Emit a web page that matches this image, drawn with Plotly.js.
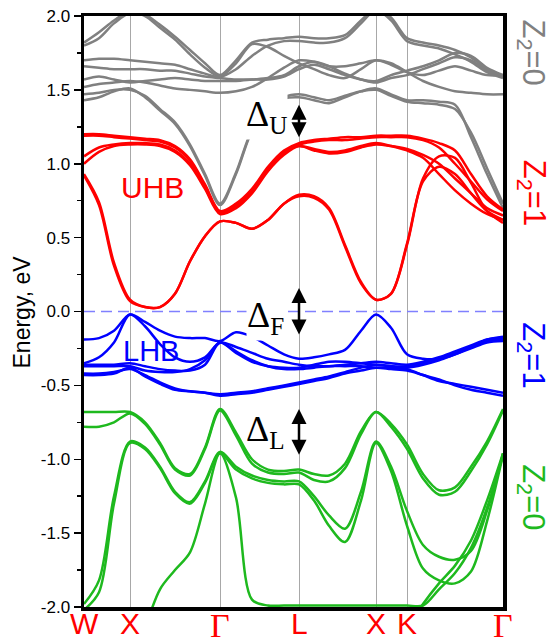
<!DOCTYPE html>
<html><head><meta charset="utf-8">
<script src="https://cdn.plot.ly/plotly-3.0.1.min.js"></script>
<style>html,body{margin:0;padding:0;background:#fff;overflow:hidden}</style>
</head><body><div id="chart" style="width:557px;height:643px"></div>
<script>
// k-path coordinate (arbitrary path units)
const kPath = [0,15,30,46,61,76,91,106,121,136,152,168,184,200,215,230,245,261,277,292,307,323,339,355,371,387,403,419];
const symK = [0,46,136,215,292,323,419];
const symLabels = ['W','X','Γ','L','X','K','Γ'];
const yTickVals = [-2,-1.5,-1,-0.5,0,0.5,1,1.5,2];
const yTickText = ['-2.0','-1.5','-1.0','-0.5','0.0','0.5','1.0','1.5','2.0'];

// Z2=0 upper bands (gray), eV
const grayBands = [
  [1.82,1.89,1.97,2.03,2.01,1.94,1.86,1.77,1.68,1.60,1.70,1.82,1.84,1.85,1.86,1.85,1.85,1.87,1.97,2.05,1.99,1.85,1.82,1.80,1.77,1.72,1.64,1.59],
  [1.80,1.85,1.95,2.02,2.00,1.92,1.84,1.74,1.65,1.59,1.64,1.73,1.80,1.83,1.83,1.82,1.82,1.85,1.95,2.04,1.97,1.83,1.80,1.78,1.74,1.69,1.62,1.58],
  [1.70,1.71,1.71,1.70,1.69,1.68,1.67,1.64,1.61,1.59,1.68,1.81,1.79,1.73,1.68,1.64,1.60,1.58,1.64,1.70,1.67,1.62,1.60,1.63,1.66,1.63,1.60,1.60],
  [1.66,1.65,1.64,1.64,1.64,1.63,1.63,1.61,1.59,1.58,1.57,1.57,1.57,1.59,1.64,1.67,1.64,1.60,1.57,1.55,1.58,1.60,1.64,1.68,1.72,1.70,1.63,1.59],
  [1.57,1.59,1.57,1.55,1.56,1.57,1.58,1.57,1.56,1.56,1.56,1.57,1.58,1.60,1.66,1.69,1.66,1.61,1.57,1.56,1.60,1.63,1.66,1.70,1.75,1.73,1.65,1.60],
  [1.52,1.54,1.55,1.56,1.55,1.53,1.51,1.50,1.49,1.48,1.49,1.52,1.58,1.65,1.70,1.69,1.66,1.66,1.68,1.70,1.68,1.62,1.56,1.52,1.49,1.48,1.47,1.47],
  [1.43,1.45,1.49,1.51,1.45,1.36,1.27,1.12,0.92,0.72,0.93,1.22,1.36,1.44,1.45,1.43,1.41,1.45,1.49,1.51,1.47,1.43,1.43,1.42,1.40,1.18,0.93,0.70],
  [1.47,1.48,1.50,1.50,1.46,1.37,1.28,1.13,0.93,0.73,0.94,1.23,1.37,1.45,1.47,1.45,1.43,1.46,1.49,1.50,1.46,1.42,1.41,1.40,1.37,1.21,0.97,0.73]
];
// Z2=1 upper Hubbard bands (red)
const redBands = [
  [1.20,1.20,1.19,1.18,1.17,1.16,1.12,1.03,0.86,0.68,0.73,0.83,0.98,1.09,1.14,1.16,1.17,1.18,1.18,1.19,1.19,1.19,1.17,1.14,1.09,0.93,0.78,0.69],
  [1.19,1.19,1.18,1.17,1.16,1.15,1.11,1.02,0.85,0.67,0.72,0.82,0.97,1.08,1.12,1.10,1.08,1.09,1.12,1.14,1.12,1.09,1.04,0.93,0.82,0.73,0.66,0.62],
  [1.05,1.11,1.13,1.14,1.14,1.13,1.09,1.00,0.84,0.67,0.71,0.81,0.96,1.07,1.13,1.15,1.16,1.16,1.17,1.18,1.18,1.18,1.16,1.11,1.00,0.88,0.76,0.68],
  [1.00,1.08,1.12,1.13,1.13,1.12,1.08,0.99,0.83,0.66,0.70,0.80,0.95,1.06,1.12,1.09,1.07,1.08,1.11,1.13,1.12,1.10,1.06,1.00,0.90,0.80,0.70,0.65],
  [0.93,0.74,0.33,0.08,0.03,0.03,0.12,0.34,0.51,0.61,0.60,0.56,0.62,0.73,0.79,0.78,0.70,0.45,0.20,0.08,0.12,0.45,0.90,1.05,1.04,0.87,0.68,0.60],
  [0.92,0.72,0.31,0.07,0.03,0.03,0.12,0.34,0.51,0.61,0.60,0.56,0.62,0.73,0.78,0.77,0.69,0.44,0.19,0.08,0.12,0.46,0.88,0.98,0.93,0.80,0.68,0.62]
];
// Z2=1 lower Hubbard bands (blue)
const blueBands = [
  [-0.19,-0.18,-0.13,-0.02,-0.07,-0.13,-0.17,-0.18,-0.18,-0.20,-0.14,-0.17,-0.23,-0.29,-0.32,-0.31,-0.29,-0.26,-0.13,-0.02,-0.11,-0.29,-0.32,-0.32,-0.29,-0.24,-0.19,-0.17],
  [-0.35,-0.31,-0.21,-0.02,-0.10,-0.22,-0.31,-0.34,-0.31,-0.21,-0.24,-0.28,-0.32,-0.34,-0.36,-0.37,-0.37,-0.36,-0.35,-0.34,-0.35,-0.36,-0.34,-0.31,-0.27,-0.23,-0.19,-0.18],
  [-0.36,-0.36,-0.36,-0.35,-0.37,-0.39,-0.40,-0.40,-0.36,-0.21,-0.27,-0.33,-0.37,-0.39,-0.39,-0.38,-0.37,-0.37,-0.37,-0.38,-0.38,-0.38,-0.36,-0.33,-0.29,-0.25,-0.21,-0.20],
  [-0.37,-0.37,-0.37,-0.37,-0.40,-0.41,-0.41,-0.39,-0.33,-0.21,-0.28,-0.34,-0.37,-0.38,-0.38,-0.36,-0.34,-0.34,-0.35,-0.36,-0.37,-0.37,-0.35,-0.32,-0.28,-0.24,-0.20,-0.19],
  [-0.42,-0.42,-0.41,-0.39,-0.43,-0.48,-0.52,-0.54,-0.55,-0.56,-0.55,-0.54,-0.52,-0.50,-0.48,-0.46,-0.44,-0.41,-0.38,-0.36,-0.37,-0.39,-0.43,-0.47,-0.49,-0.51,-0.53,-0.55],
  [-0.43,-0.43,-0.42,-0.38,-0.44,-0.49,-0.53,-0.54,-0.55,-0.57,-0.56,-0.55,-0.53,-0.51,-0.49,-0.47,-0.45,-0.42,-0.40,-0.38,-0.39,-0.40,-0.43,-0.46,-0.50,-0.53,-0.55,-0.57]
];
// Z2=0 lower bands (green)
const greenBands = [
  [-0.68,-0.68,-0.68,-0.68,-0.75,-0.89,-1.06,-1.10,-0.92,-0.66,-0.82,-1.00,-1.07,-1.08,-1.07,-1.10,-1.11,-1.03,-0.81,-0.68,-0.76,-0.90,-1.10,-1.21,-1.19,-1.05,-0.88,-0.66],
  [-0.78,-0.78,-0.75,-0.69,-0.76,-0.90,-1.07,-1.11,-0.93,-0.67,-0.84,-1.03,-1.09,-1.10,-1.09,-1.14,-1.15,-1.06,-0.83,-0.68,-0.78,-0.93,-1.13,-1.24,-1.22,-1.08,-0.90,-0.67],
  [-1.98,-1.82,-1.25,-0.88,-0.92,-1.05,-1.22,-1.29,-1.15,-0.95,-1.05,-1.11,-1.14,-1.15,-1.15,-1.25,-1.38,-1.47,-1.22,-0.88,-1.05,-1.35,-1.58,-1.66,-1.68,-1.62,-1.35,-0.96],
  [-2.02,-1.90,-1.30,-0.89,-0.93,-1.06,-1.23,-1.30,-1.16,-0.96,-1.07,-1.13,-1.16,-1.17,-1.17,-1.28,-1.45,-1.56,-1.28,-0.89,-1.08,-1.45,-1.74,-1.82,-1.84,-1.76,-1.42,-0.97],
  [null,null,null,null,-2.15,-1.88,-1.75,-1.63,-1.30,-0.96,-1.26,-1.95,-1.99,-1.99,-1.99,-1.99,-1.99,-1.99,-1.99,-1.99,-1.99,-1.99,-1.99,-1.88,-1.77,-1.60,-1.33,-0.97],
  [null,null,null,null,null,null,null,null,null,null,null,null,null,null,null,null,null,null,null,null,null,-2.15,-1.98,-1.84,-1.72,-1.55,-1.28,-0.96]
];
const fermiLevel = 0;

const groupColors = {gray:'rgb(128,128,128)', red:'rgb(255,0,0)', blue:'rgb(0,0,255)', green:'rgb(30,185,30)'};

const traces = [];
traces.push({x:[kPath[0], kPath[kPath.length-1]], y:[fermiLevel, fermiLevel], mode:'lines',
  line:{color:'rgb(128,128,255)', width:1.5, dash:'11px,6px'}, hoverinfo:'skip'});
function addGroup(bands, color, width){
  bands.forEach(b => traces.push({x:kPath, y:b, mode:'lines', connectgaps:false,
    line:{color:color, width:width, shape:'spline', smoothing:0.9}, hoverinfo:'skip'}));
}
addGroup(grayBands, groupColors.gray, 2.5);
addGroup(redBands, groupColors.red, 2.5);
addGroup(blueBands, groupColors.blue, 2.5);
addGroup(greenBands, groupColors.green, 2.5);

const annotations = [];
symK.forEach((k,i) => {
  const isG = symLabels[i] === 'Γ';
  annotations.push({x:k, xref:'x', y:0, yref:'paper', xanchor:'center', yanchor:'top', yshift:2, showarrow:false,
    text:symLabels[i], font:{family: isG ? 'Liberation Serif' : 'Arial', size: isG ? 34 : 30, color:'red'}});
});
// right-side Z2 labels
[['Z<sub>2</sub>=0',1.75,groupColors.gray],['Z<sub>2</sub>=1',0.80,groupColors.red],
 ['Z<sub>2</sub>=1',-0.30,groupColors.blue],['Z<sub>2</sub>=0',-1.26,groupColors.green]].forEach(a => {
  annotations.push({x:1.068, xref:'paper', y:a[1], yref:'y', xanchor:'center', yanchor:'middle',
    text:a[0], textangle:90, showarrow:false, font:{family:'Arial', size:31, color:a[2]}});
});
// gap labels
[['Δ<sub>U</sub>',182,1.32,true],['Δ<sub>F</sub>',181,-0.04,true],['Δ<sub>L</sub>',181,-0.81,false]].forEach(a => {
  annotations.push({x:a[1], y:a[2], xref:'x', yref:'y', xanchor:'center', yanchor:'middle', text:a[0], showarrow:false,
    bgcolor: a[3] ? 'white' : 'rgba(0,0,0,0)', borderpad:0,
    font:{family:'Liberation Serif', size:36, color:'black'}});
});
// double arrows at L
[[1.41,1.18],[0.17,-0.155],[-0.65,-0.97]].forEach(a => {
  annotations.push({x:215, y:a[1], ax:215, ay:a[0], xref:'x', yref:'y', axref:'x', ayref:'y',
    text:'', showarrow:true, arrowside:'end+start', arrowhead:2, startarrowhead:2,
    arrowsize:1.2, startarrowsize:1.2, arrowwidth:2.5, arrowcolor:'black'});
});
annotations.push({x:68, y:0.84, xref:'x', yref:'y', xanchor:'center', yanchor:'middle', text:'UHB', showarrow:false, font:{family:'Arial', size:30, color:'red'}});
annotations.push({x:67, y:-0.27, xref:'x', yref:'y', xanchor:'center', yanchor:'middle', text:'LHB', showarrow:false, font:{family:'Arial', size:29, color:'blue'}});
annotations.push({x:-0.148, xref:'paper', y:0.5, yref:'paper', xanchor:'center', yanchor:'middle', text:'Energy, eV', textangle:-90, showarrow:false,
  font:{family:'Arial', size:23, color:'black'}});

const layout = {
  width:557, height:643,
  margin:{l:84, r:54, t:16, b:36, pad:0},
  paper_bgcolor:'white', plot_bgcolor:'white', showlegend:false,
  xaxis:{range:[0,419], tickmode:'array', tickvals:symK, showticklabels:false, ticks:'',
    showgrid:true, gridcolor:'#a8a8a8', gridwidth:1, zeroline:false,
    showline:true, linecolor:'black', linewidth:3.5, mirror:true, layer:'below traces', fixedrange:true},
  yaxis:{range:[-2,2], tickmode:'array', tickvals:yTickVals, ticktext:yTickText,
    ticks:'outside', ticklen:7, tickwidth:1.5, tickcolor:'black',
    minor:{tickmode:'linear', tick0:0.25, dtick:0.5, ticks:'outside', ticklen:4, tickwidth:1.5, tickcolor:'black', showgrid:false},
    showgrid:false, zeroline:false, showline:true, linecolor:'black', linewidth:3.5, mirror:true,
    tickfont:{family:'Arial', size:17, color:'black'}, layer:'below traces', fixedrange:true},
  annotations:annotations
};
Plotly.newPlot('chart', traces, layout, {staticPlot:true, displayModeBar:false});
</script>
</body></html>
